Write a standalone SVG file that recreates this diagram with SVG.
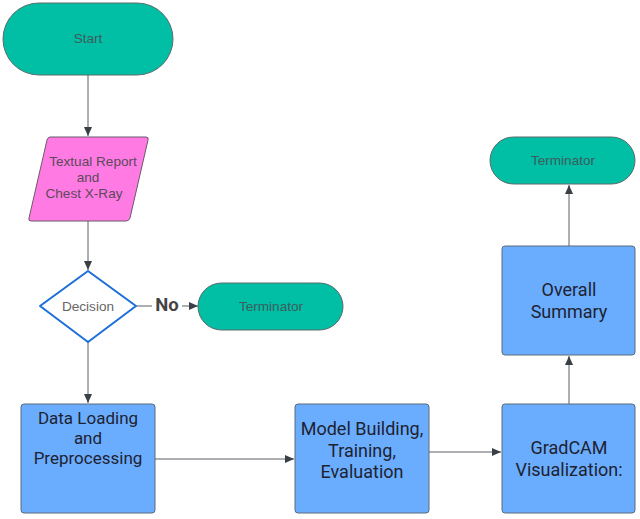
<svg xmlns="http://www.w3.org/2000/svg" width="640" height="519" viewBox="0 0 640 519">
<style>
.term{fill:#00BFA5;stroke:#5a6b6b;stroke-width:1}
.box{fill:#6AADFF;stroke:#5a6b7b;stroke-width:1}
.tt{font-family:"Liberation Sans",Arial,sans-serif;font-size:13.6px;fill:#3d5c5c;text-anchor:middle;dominant-baseline:central}
.bt{font-family:Roboto,"Liberation Sans",sans-serif;font-size:18px;fill:#1e2230;text-anchor:middle;dominant-baseline:central}
.edge{stroke:#5a5f66;stroke-width:1;fill:none;marker-end:url(#arr)}
</style>
<defs>
<marker id="arr" markerWidth="10" markerHeight="10" refX="9" refY="5" orient="auto" markerUnits="userSpaceOnUse">
<path d="M0,1 L9,5 L0,9 Z" fill="#3a3f46"/>
</marker>
</defs>
<rect width="640" height="519" fill="#ffffff"/>
<g id="connectors">
<line class="edge" x1="88" y1="75" x2="88" y2="136"/>
<line class="edge" x1="88" y1="221" x2="88" y2="270"/>
<line class="edge" x1="136" y1="306" x2="152" y2="306" style="marker-end:none"/>
<line class="edge" x1="182" y1="306" x2="198" y2="306"/>
<text x="167" y="305" font-family="Roboto,'Liberation Sans',sans-serif" font-size="18.5" font-weight="bold" fill="#444" text-anchor="middle" dominant-baseline="central">No</text>
<line class="edge" x1="88" y1="342" x2="88" y2="403"/>
<line class="edge" x1="155" y1="459" x2="294" y2="459"/>
<line class="edge" x1="429" y1="452" x2="501" y2="452"/>
<line class="edge" x1="569" y1="404" x2="569" y2="356"/>
<line class="edge" x1="569" y1="246" x2="569" y2="185"/>
</g>
<g id="start">
<rect class="term" x="3" y="3" width="170" height="72" rx="36"/>
<text class="tt" x="88" y="38">Start</text>
</g>
<g id="input">
<path d="M50,137 L146,137 Q149,137 148,140 L130,218 Q129,221 126,221 L31,221 Q28,221 29,218 L47,140 Q48,137 50,137 Z" fill="#FF7AE3" stroke="#6b5a6b" stroke-width="1"/>
<text class="tt" x="93" y="161" style="fill:#5a4a5a">Textual Report</text>
<text class="tt" x="88" y="177" style="fill:#5a4a5a">and</text>
<text class="tt" x="84" y="193" style="fill:#5a4a5a">Chest X-Ray</text>
</g>
<g id="decision">
<path d="M88,271 L136,306 L88,342 L40,306 Z" fill="#ffffff" stroke="#1a6fd8" stroke-width="2" stroke-linejoin="round"/>
<text class="tt" x="88" y="306" style="fill:#666">Decision</text>
</g>
<g id="terminator1">
<rect class="term" x="198" y="283" width="145" height="47" rx="23.5"/>
<text class="tt" x="271" y="306">Terminator</text>
</g>
<g id="data-loading">
<rect class="box" x="21" y="404" width="134" height="109" rx="3"/>
<text class="bt" x="88" y="418" style="font-size:17px">Data Loading</text>
<text class="bt" x="88" y="438" style="font-size:17px">and</text>
<text class="bt" x="88" y="458" style="font-size:17px">Preprocessing</text>
</g>
<g id="model-building">
<rect class="box" x="295" y="404" width="134" height="109" rx="3"/>
<text class="bt" x="362" y="428">Model Building,</text>
<text class="bt" x="362" y="450">Training,</text>
<text class="bt" x="362" y="471">Evaluation</text>
</g>
<g id="gradcam">
<rect class="box" x="502" y="404" width="133" height="109" rx="3"/>
<text class="bt" x="569" y="447">GradCAM</text>
<text class="bt" x="569" y="469">Visualization:</text>
</g>
<g id="summary">
<rect class="box" x="502" y="246" width="133" height="109" rx="3"/>
<text class="bt" x="569" y="289">Overall</text>
<text class="bt" x="569" y="311">Summary</text>
</g>
<g id="terminator2">
<rect class="term" x="490" y="137" width="145" height="47" rx="23.5"/>
<text class="tt" x="563" y="160">Terminator</text>
</g>
</svg>
